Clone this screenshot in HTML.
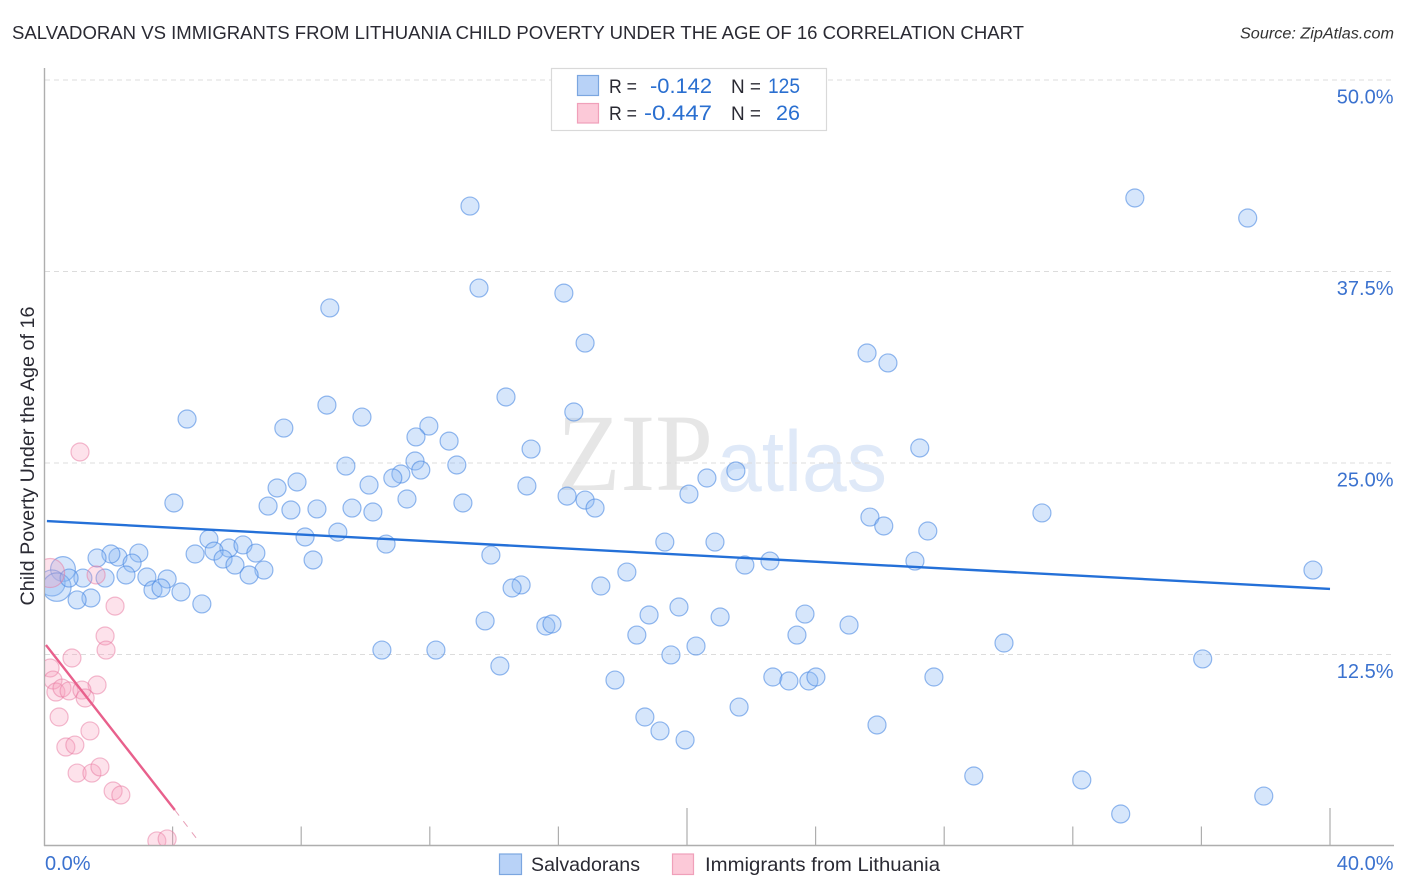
<!DOCTYPE html>
<html lang="en">
<head>
<meta charset="utf-8">
<title>Salvadoran vs Immigrants from Lithuania Child Poverty Correlation Chart</title>
<style>
html,body{margin:0;padding:0;background:#fff;}
svg{display:block;font-family:"Liberation Sans",sans-serif;}
</style>
</head>
<body>
<svg id="chart" width="1406" height="892" viewBox="0 0 1406 892" xmlns="http://www.w3.org/2000/svg">
  <defs>
    <clipPath id="plot-clip"><rect x="45" y="60" width="1349" height="785"/></clipPath>
  </defs>
  <text x="12" y="39" font-size="18.5" fill="#2a2a33" textLength="1012" lengthAdjust="spacingAndGlyphs">SALVADORAN VS IMMIGRANTS FROM LITHUANIA CHILD POVERTY UNDER THE AGE OF 16 CORRELATION CHART</text>
  <text x="1394" y="38.5" font-size="15.5" font-style="italic" fill="#333" text-anchor="end" textLength="154" lengthAdjust="spacingAndGlyphs">Source: ZipAtlas.com</text>
  <g>
    <text x="557" y="490" font-family="'Liberation Serif',serif" font-size="110" fill="#e6e6e6" textLength="156" lengthAdjust="spacingAndGlyphs">ZIP</text>
    <text x="717" y="491" font-size="86" fill="#dfe9f8" textLength="170" lengthAdjust="spacingAndGlyphs">atlas</text>
  </g>
  <g id="grid"></g>
  <g id="axes">
    <line x1="44.5" y1="68" x2="44.5" y2="846" stroke="#aeaeae" stroke-width="1.4"/>
    <line x1="44" y1="845.5" x2="1394" y2="845.5" stroke="#aeaeae" stroke-width="1.4"/>
  </g>
  <g id="ticks"></g>
  <g id="marks-blue" clip-path="url(#plot-clip)"></g>
  <g id="marks-pink" clip-path="url(#plot-clip)"></g>
  <g id="trends"></g>
  <text transform="translate(34,456) rotate(-90)" font-size="19" fill="#2a2a33" text-anchor="middle" textLength="299" lengthAdjust="spacingAndGlyphs">Child Poverty Under the Age of 16</text>
  <g id="tick-labels"></g>

  <g>
    <rect x="551.5" y="68.5" width="275" height="62" fill="#fff" stroke="#d9d9d9" stroke-width="1.2"/>
    <rect x="577.5" y="75.5" width="21" height="20" fill="#b8d2f7" stroke="#7ba6e0" stroke-width="1.2"/>
    <rect x="577.5" y="103.5" width="21" height="19.5" fill="#fcc9d8" stroke="#f0a0ba" stroke-width="1.2"/>
    <text x="609" y="93" font-size="19" fill="#2a2a33" textLength="28" lengthAdjust="spacingAndGlyphs">R =</text>
    <text x="650" y="93" font-size="21.5" fill="#2a6fd0" textLength="62" lengthAdjust="spacingAndGlyphs">-0.142</text>
    <text x="731" y="93" font-size="19" fill="#2a2a33" textLength="30" lengthAdjust="spacingAndGlyphs">N =</text>
    <text x="768" y="93" font-size="21.5" fill="#2a6fd0" textLength="32" lengthAdjust="spacingAndGlyphs">125</text>
    <text x="609" y="120" font-size="19" fill="#2a2a33" textLength="28" lengthAdjust="spacingAndGlyphs">R =</text>
    <text x="644" y="120" font-size="21.5" fill="#2a6fd0" textLength="68" lengthAdjust="spacingAndGlyphs">-0.447</text>
    <text x="731" y="120" font-size="19" fill="#2a2a33" textLength="30" lengthAdjust="spacingAndGlyphs">N =</text>
    <text x="776" y="120" font-size="21.5" fill="#2a6fd0" textLength="24" lengthAdjust="spacingAndGlyphs">26</text>
  </g>

  <g>
    <g>
      <rect x="499.5" y="854" width="22" height="20.5" fill="#b8d2f7" stroke="#7ba6e0" stroke-width="1.2"/>
      <text x="531" y="871" font-size="19.5" fill="#2a2a33" textLength="109" lengthAdjust="spacingAndGlyphs">Salvadorans</text>
    </g>
    <g>
      <rect x="672.5" y="854" width="21" height="20.5" fill="#fcc9d8" stroke="#f0a0ba" stroke-width="1.2"/>
      <text x="705" y="871" font-size="19.5" fill="#2a2a33" textLength="235" lengthAdjust="spacingAndGlyphs">Immigrants from Lithuania</text>
    </g>
  </g>
</svg>
<script>
// Axis tick data
const yTickValues = [12.5, 25, 37.5, 50];
const yTickLabels = ["12.5%", "25.0%", "37.5%", "50.0%"];
const xTickValues = [4, 8, 12, 16, 20, 24, 28, 32, 36, 40];
const xMajorTicks = [20, 40];
const xEndValues = [0, 40];
const xEndLabels = ["0.0%", "40.0%"];

// Salvadorans series (x = share of immigrants %, y = child poverty %)
const blueX = [13.25,33.93,37.44,13.53,16.17,8.89,16.83,25.60,26.25,14.37,16.48,8.80,9.89,4.45,7.46,11.97,11.57,12.60,15.15,27.24,9.39,11.54,12.84,11.72,11.10,10.85,10.11,7.87,7.25,15.02,21.52,20.62,20.06,16.27,16.83,17.14,4.04,6.97,7.68,8.49,9.58,10.23,11.29,13.03,25.69,26.12,27.49,31.04,9.14,8.12,5.13,5.75,6.19,5.29,6.59,4.70,5.57,5.94,6.84,6.38,8.37,10.64,13.90,19.31,20.87,21.80,22.58,27.09,39.47,2.95,2.30,2.08,1.65,2.74,1.21,0.78,1.90,2.55,3.20,3.83,3.39,3.64,4.26,1.46,1.03,4.91,17.32,18.13,14.84,14.56,18.82,19.75,21.03,23.67,23.42,25.04,15.61,15.80,13.72,18.44,19.50,20.28,10.51,12.19,14.18,17.76,22.67,23.17,23.79,24.01,27.68,29.86,36.04,18.69,21.62,19.16,19.94,25.91,28.92,32.28,33.49,37.94];
const blueY = [41.77,42.30,40.99,36.42,36.09,35.12,32.83,32.18,31.53,29.31,28.33,28.78,28.00,27.87,27.28,27.41,26.70,26.43,25.91,25.98,24.80,25.13,24.87,24.54,24.28,24.02,23.56,23.76,23.37,23.50,24.48,24.02,22.97,22.84,22.58,22.06,22.39,22.19,21.93,22.00,22.06,21.80,22.65,22.39,21.47,20.89,20.56,21.74,20.49,20.17,20.04,19.45,19.65,19.25,19.12,19.06,18.73,18.34,18.01,17.69,18.67,19.71,18.99,19.84,19.84,18.34,18.60,18.60,18.01,19.12,18.86,19.06,18.80,18.47,17.49,17.49,17.49,17.69,17.56,17.43,16.71,16.84,16.58,16.19,16.06,15.80,16.97,17.88,17.04,16.84,15.08,15.60,14.95,15.14,13.77,14.42,14.36,14.49,14.69,13.77,12.47,13.05,12.79,12.79,11.75,10.83,11.03,10.77,10.77,11.03,11.03,13.25,12.21,8.42,9.07,7.51,6.92,7.90,4.57,4.31,2.09,3.26];
// High-population Salvadoran points (weight scales bubble area)
const blueBigX = [0.59, 0.25, 0.40];
const blueBigY = [18.08, 17.17, 16.90];
const blueBigWeight = [1.9, 2.1, 2.5];

// Immigrants from Lithuania series
const pinkX = [1.12,1.62,2.21,1.90,1.93,0.87,0.19,0.28,1.65,0.37,0.56,0.78,1.18,1.28,0.47,1.43,0.68,0.96,1.03,1.49,1.74,2.15,2.39,3.51,3.83];
const pinkY = [25.72,17.69,15.66,13.71,12.79,12.27,11.62,10.83,10.51,10.05,10.31,10.12,10.18,9.66,8.42,7.51,6.46,6.59,4.76,4.76,5.16,3.59,3.33,0.33,0.46];
const pinkBigX = [0.19];
const pinkBigY = [17.82];
const pinkBigWeight = [2.6];

// Trend lines (endpoints in data units)
const blueTrendX = [0.09, 40];
const blueTrendY = [21.21, 16.78];
const pinkTrendX = [0.06, 4.07];
const pinkTrendY = [13.12, 2.35];
const pinkExtensionX = [4.07, 4.85];
const pinkExtensionY = [2.35, 0.2];

const SVG_NS = "http://www.w3.org/2000/svg";
const xScale = v => 44 + v * 32.15;
const yScale = v => 846 - v * 15.32;
const rScale = w => 9 * Math.sqrt(w);

function make(parent, tag, attrs) {
  const el = document.createElementNS(SVG_NS, tag);
  for (const k in attrs) el.setAttribute(k, attrs[k]);
  parent.appendChild(el);
  return el;
}

const gridG = document.getElementById("grid");
const ticksG = document.getElementById("ticks");
const labelsG = document.getElementById("tick-labels");
const blueG = document.getElementById("marks-blue");
const pinkG = document.getElementById("marks-pink");
const trendG = document.getElementById("trends");

yTickValues.forEach((v, i) => {
  const g = make(gridG, "line", {x1: 45, x2: 1394, y1: yScale(v), y2: yScale(v), stroke: "#dcdcdc", "stroke-width": 1, "stroke-dasharray": "5 4"});
  
  
  const t = make(labelsG, "text", {x: 1393.5, y: yScale(v) + 23.5, "font-size": 20, fill: "#3b72cf", "text-anchor": "end"});
  
  
  t.textContent = yTickLabels[i];
});

xTickValues.forEach(v => {
  const major = xMajorTicks.includes(v);
  const l = make(ticksG, "line", {x1: xScale(v), x2: xScale(v), y1: major ? 808 : 826.5, y2: 845, stroke: "#aeaeae", "stroke-width": 1.2});
  
  
});

xEndValues.forEach((v, i) => {
  const t = make(labelsG, "text", {x: v === 0 ? xScale(v) + 1 : xScale(v) + 63.5, y: 870, "font-size": 20, fill: "#3b72cf", "text-anchor": v === 0 ? "start" : "end"});
  
  
  t.textContent = xEndLabels[i];
});

function drawPoints(group, xs, ys, weights, fill, stroke, name) {
  xs.forEach((x, i) => {
    const c = make(group, "circle", {cx: xScale(x), cy: yScale(ys[i]), r: rScale(weights ? weights[i] : 1), fill: fill, stroke: stroke, "stroke-width": 1.2});
    
    
  });
}

const blueFill = "rgba(140,185,243,0.36)", blueStroke = "rgba(70,135,225,0.58)";
const pinkFill = "rgba(248,160,190,0.30)", pinkStroke = "rgba(232,120,160,0.5)";
drawPoints(blueG, blueBigX, blueBigY, blueBigWeight, blueFill, blueStroke, "salvadorans-point-large");
drawPoints(blueG, blueX, blueY, null, blueFill, blueStroke, "salvadorans-point");
drawPoints(pinkG, pinkBigX, pinkBigY, pinkBigWeight, pinkFill, pinkStroke, "lithuania-point-large");
drawPoints(pinkG, pinkX, pinkY, null, pinkFill, pinkStroke, "lithuania-point");

const bt = make(trendG, "line", {x1: xScale(blueTrendX[0]), y1: yScale(blueTrendY[0]), x2: xScale(blueTrendX[1]), y2: yScale(blueTrendY[1]), stroke: "#2470d8", "stroke-width": 2.4});


const pt = make(trendG, "line", {x1: xScale(pinkTrendX[0]), y1: yScale(pinkTrendY[0]), x2: xScale(pinkTrendX[1]), y2: yScale(pinkTrendY[1]), stroke: "#e8608c", "stroke-width": 2.4});


const pe = make(trendG, "line", {x1: xScale(pinkExtensionX[0]), y1: yScale(pinkExtensionY[0]), x2: xScale(pinkExtensionX[1]), y2: yScale(pinkExtensionY[1]), stroke: "#e8a0b8", "stroke-width": 1, "stroke-dasharray": "7 7"});


</script>
</body>
</html>
